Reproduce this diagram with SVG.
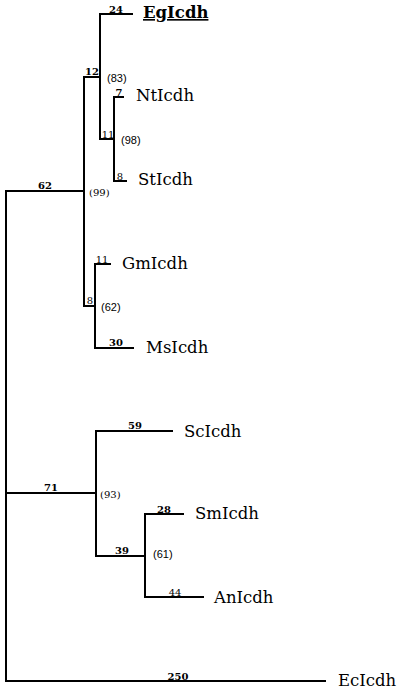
<svg xmlns="http://www.w3.org/2000/svg" width="400" height="693" viewBox="0 0 400 693">
<style>
.br{stroke:#000;stroke-width:2;fill:none;stroke-linecap:square}
.leaf{font-family:"DejaVu Serif","Liberation Serif",serif;font-size:16.5px;fill:#000}
.len{font-family:"DejaVu Serif","Liberation Serif",serif;font-size:10px;font-weight:bold;fill:#000;text-anchor:middle}
.lenn{font-family:"DejaVu Serif","Liberation Serif",serif;font-size:10px;fill:#000;text-anchor:middle}
.bs{font-family:"Liberation Sans",Arial,sans-serif;font-size:11px;fill:#000}
.bss{font-family:"DejaVu Serif","Liberation Serif",serif;font-size:10px;fill:#000}
</style>
<rect width="400" height="693" fill="#fff"/>
<g id="connectors">
<path class="br" d="M6,191 V681 M6,191 H84 M84,77 V306 M84,77 H100 M100,14 V139 M100,14 H132 M100,139 H114 M114,97 V181 M114,97 H123 M114,181 H126 M84,306 H95 M95,264 V348 M95,264 H110 M95,348 H133"/>
<path class="br" d="M6,493 H96 M96,431 V556 M96,431 H172 M96,556 H145 M145,514 V597 M145,514 H183 M145,597 H203 M6,681 H325"/>
</g>
<g id="branch-lengths">
<text class="len" x="116" y="13">24</text>
<text class="len" x="92" y="75">12</text>
<text class="len" x="119" y="96">7</text>
<text class="lenn" x="108" y="138">11</text>
<text class="lenn" x="120" y="180">8</text>
<text class="len" x="45" y="189">62</text>
<text class="lenn" x="102" y="263">11</text>
<text class="lenn" x="90" y="304">8</text>
<text class="len" x="116" y="346">30</text>
<text class="len" x="135" y="429">59</text>
<text class="len" x="51" y="491">71</text>
<text class="len" x="164" y="513">28</text>
<text class="len" x="122" y="554">39</text>
<text class="lenn" x="175" y="596">44</text>
<text class="len" x="178" y="680">250</text>
</g>
<g id="bootstrap">
<text class="bs" x="107" y="82">(83)</text>
<text class="bs" x="121" y="144">(98)</text>
<text class="bss" x="89" y="196">(99)</text>
<text class="bs" x="101" y="311">(62)</text>
<text class="bss" x="100" y="498">(93)</text>
<text class="bs" x="153" y="558">(61)</text>
</g>
<g id="EgIcdh"><text class="leaf" x="143" y="18" font-weight="bold" text-decoration="underline">EgIcdh</text></g>
<g id="NtIcdh"><text class="leaf" x="136" y="101">NtIcdh</text></g>
<g id="StIcdh"><text class="leaf" x="138" y="185">StIcdh</text></g>
<g id="GmIcdh"><text class="leaf" x="122" y="269">GmIcdh</text></g>
<g id="MsIcdh"><text class="leaf" x="146" y="353">MsIcdh</text></g>
<g id="ScIcdh"><text class="leaf" x="184" y="437">ScIcdh</text></g>
<g id="SmIcdh"><text class="leaf" x="195" y="519">SmIcdh</text></g>
<g id="AnIcdh"><text class="leaf" x="214" y="603">AnIcdh</text></g>
<g id="EcIcdh"><text class="leaf" x="338" y="686">EcIcdh</text></g>
</svg>
